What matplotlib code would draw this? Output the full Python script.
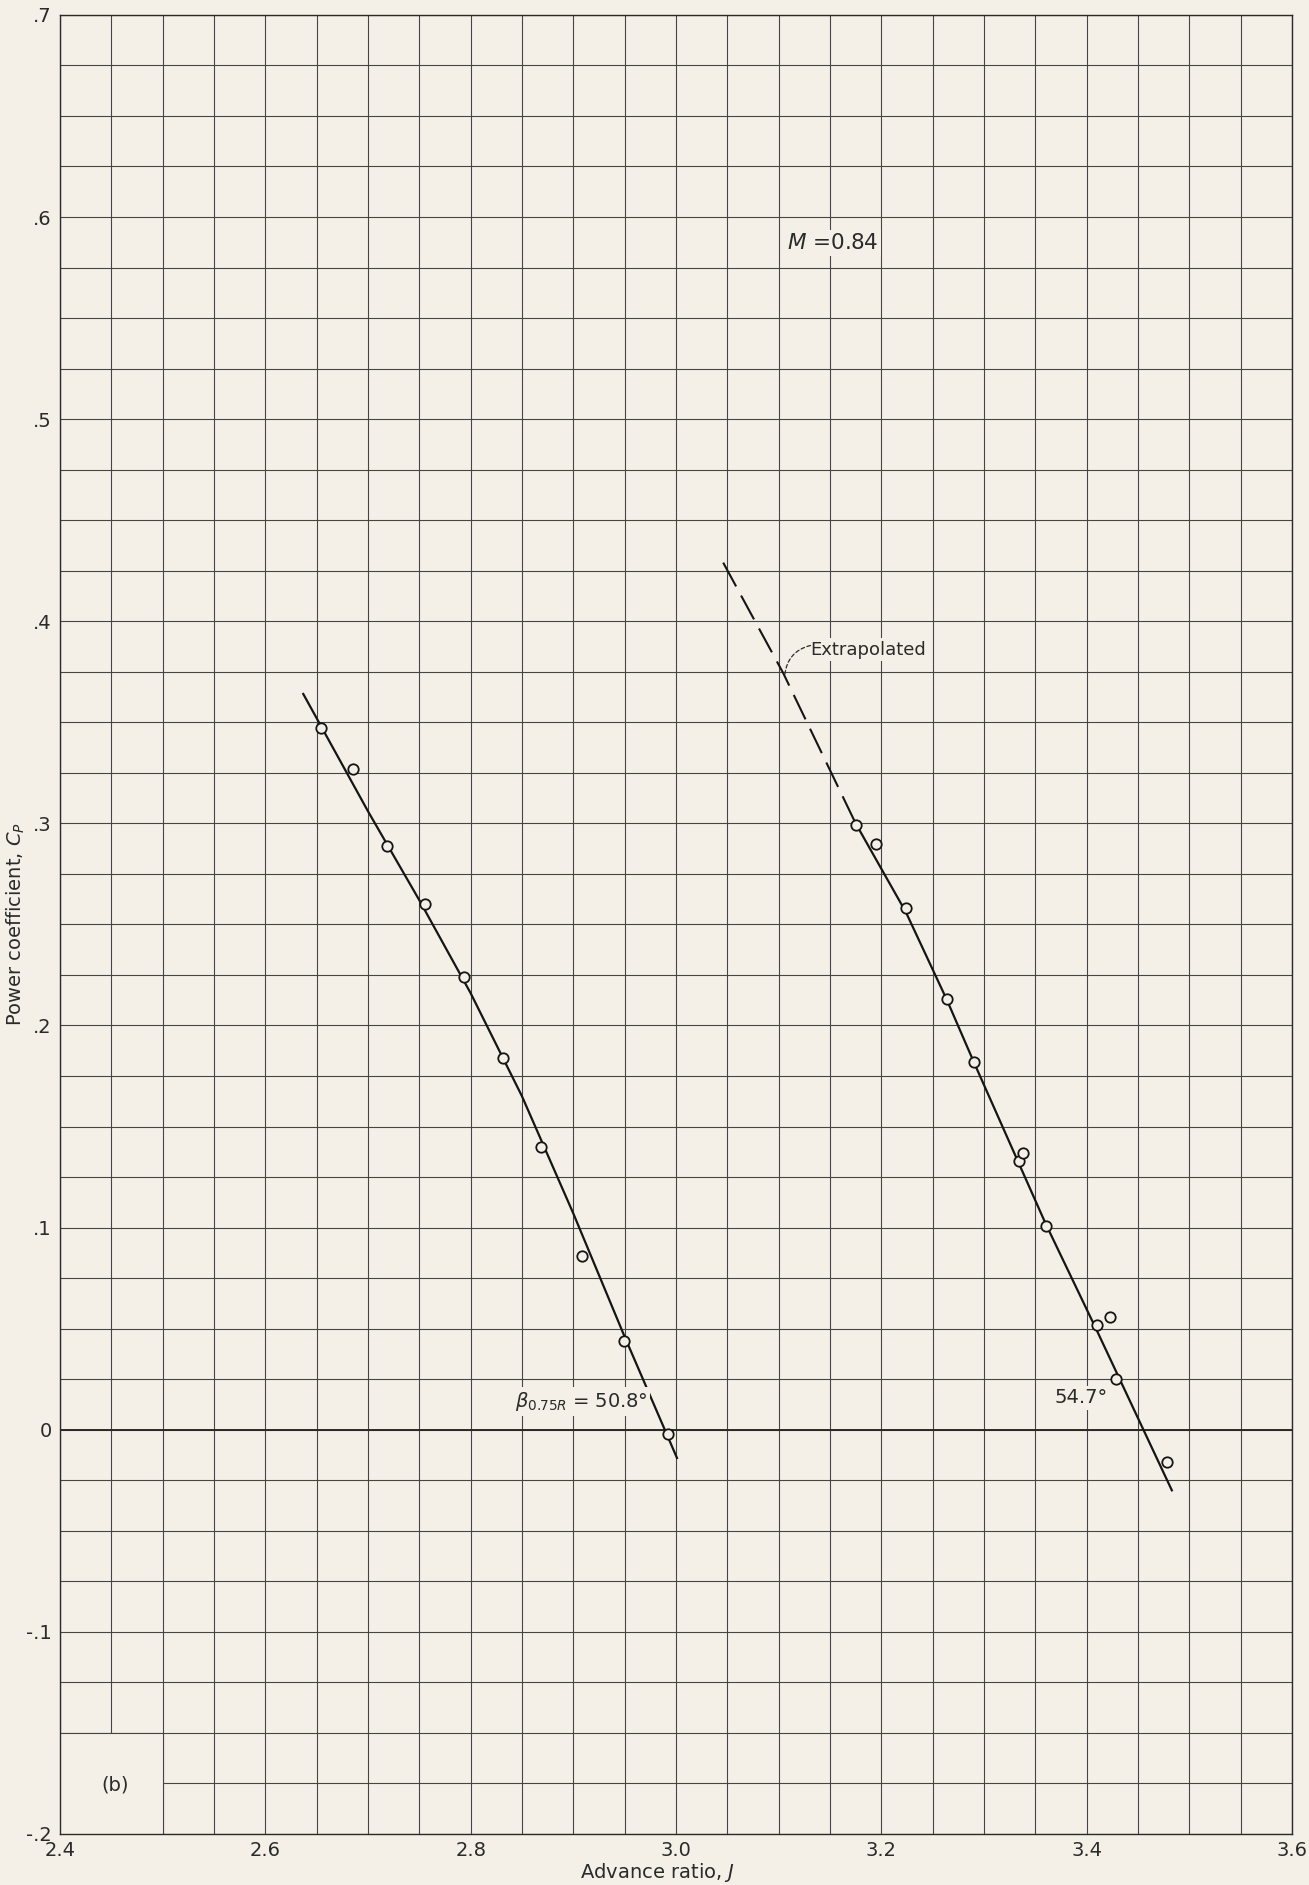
import matplotlib.pyplot as plt
from matplotlib.patches import Rectangle
from matplotlib.ticker import FixedLocator, MultipleLocator

PAPER = '#f5f0e7'
INK = '#2a2a2a'
GRID = '#454545'

# test points, beta_0.75R = 50.8 deg
j_508 = [2.654, 2.685, 2.719, 2.756, 2.794, 2.832, 2.869, 2.908, 2.949, 2.992]
cp_508 = [0.347, 0.327, 0.289, 0.260, 0.224, 0.184, 0.140, 0.086, 0.044, -0.002]
# faired curve through them
fair_j_508 = [2.637, 2.70, 2.75, 2.80, 2.85, 2.90, 2.95, 3.001]
fair_cp_508 = [0.364, 0.306, 0.262, 0.216, 0.165, 0.107, 0.046, -0.014]

# test points, beta_0.75R = 54.7 deg
j_547 = [3.175, 3.195, 3.224, 3.264, 3.290, 3.334, 3.338, 3.360, 3.410, 3.423, 3.429, 3.478]
cp_547 = [0.299, 0.290, 0.258, 0.213, 0.182, 0.133, 0.137, 0.101, 0.052, 0.056, 0.025, -0.016]
fair_j_547 = [3.175, 3.224, 3.264, 3.290, 3.360, 3.410, 3.483]
fair_cp_547 = [0.300, 0.256, 0.2125, 0.182, 0.102, 0.049, -0.030]
extrap_j_547 = [3.046, 3.1045, 3.175]
extrap_cp_547 = [0.429, 0.3743, 0.300]

x_ticks = [2.4, 2.6, 2.8, 3.0, 3.2, 3.4, 3.6]
x_labels = ['2.4', '2.6', '2.8', '3.0', '3.2', '3.4', '3.6']
y_ticks = [-0.2, -0.1, 0.0, 0.1, 0.2, 0.3, 0.4, 0.5, 0.6, 0.7]
y_labels = ['-.2', '-.1', '0', '.1', '.2', '.3', '.4', '.5', '.6', '.7']

plt.rcParams['font.family'] = 'DejaVu Sans'
plt.rcParams['mathtext.fontset'] = 'dejavusans'

fig = plt.figure(figsize=(13.09, 18.85), dpi=100, facecolor=PAPER)
ax = fig.add_axes([0.0458, 0.0271, 0.9412, 0.9650], facecolor=PAPER)

ax.set_xlim(2.4, 3.6)
ax.set_ylim(-0.2, 0.7)
ax.xaxis.set_major_locator(FixedLocator(x_ticks))
ax.yaxis.set_major_locator(FixedLocator(y_ticks))
ax.set_xticklabels(x_labels)
ax.set_yticklabels(y_labels)
ax.xaxis.set_minor_locator(MultipleLocator(0.05))
ax.yaxis.set_minor_locator(MultipleLocator(0.025))
ax.set_axisbelow(True)
ax.grid(which='both', color=GRID, lw=0.8)
ax.tick_params(which='both', length=0, labelsize=14, colors=INK)
ax.tick_params(axis='x', pad=5)
ax.tick_params(axis='y', pad=6)
for s in ax.spines.values():
    s.set_color(INK)
    s.set_linewidth(1.0)

# heavier zero line
ax.axhline(0.0, color=INK, lw=1.4, zorder=0.8)

# blank corner cell for the part label
ax.add_patch(Rectangle((2.4, -0.2), 0.1, 0.05, facecolor=PAPER, edgecolor='none', zorder=0.9))
ax.plot([2.4, 2.5], [-0.15, -0.15], color=GRID, lw=0.8, zorder=0.95)
ax.plot([2.5, 2.5], [-0.2, -0.15], color=GRID, lw=0.8, zorder=0.95)
ax.text(2.4535, -0.1758, '(b)', fontsize=14, color=INK, ha='center', va='center')

# faired curves and test points
ax.plot(fair_j_508, fair_cp_508, color='#151515', lw=1.6, zorder=3)
ax.plot(fair_j_547, fair_cp_547, color='#151515', lw=1.6, zorder=3)
ax.plot(extrap_j_547, extrap_cp_547, color='#151515', lw=1.5, dashes=(13, 5), zorder=3)
ax.plot(j_508, cp_508, 'o', ms=7.5, mfc=PAPER, mec='#151515', mew=1.3, zorder=4)
ax.plot(j_547, cp_547, 'o', ms=7.5, mfc=PAPER, mec='#151515', mew=1.3, zorder=4)

box = dict(facecolor=PAPER, edgecolor='none', pad=2)
ax.text(3.108, 0.587, '$M$ =0.84', fontsize=15.5, color=INK, va='center', bbox=box)
ax.text(3.131, 0.386, 'Extrapolated', fontsize=13, color=INK, va='center', bbox=box)
ax.annotate('', xy=(3.106, 0.3734), xytext=(3.131, 0.388),
            arrowprops=dict(arrowstyle='-', color=INK, lw=0.9, ls=(0, (3, 2)),
                            connectionstyle='arc3,rad=0.35', shrinkA=0, shrinkB=0))
ax.text(2.843, 0.014, r'$\beta_{0.75R}$ = 50.8°', fontsize=14, color=INK, va='center', bbox=box)
ax.text(3.369, 0.0157, '54.7°', fontsize=14, color=INK, va='center', bbox=box)

ax.set_xlabel('Advance ratio, $J$', fontsize=14, color=INK)
ax.set_ylabel('Power coefficient, $C_P$', fontsize=14, color=INK)
ax.xaxis.set_label_coords(0.485, -0.0150)
ax.yaxis.set_label_coords(-0.027, 0.5)

fig.savefig('out.png', dpi=100, facecolor=PAPER)
